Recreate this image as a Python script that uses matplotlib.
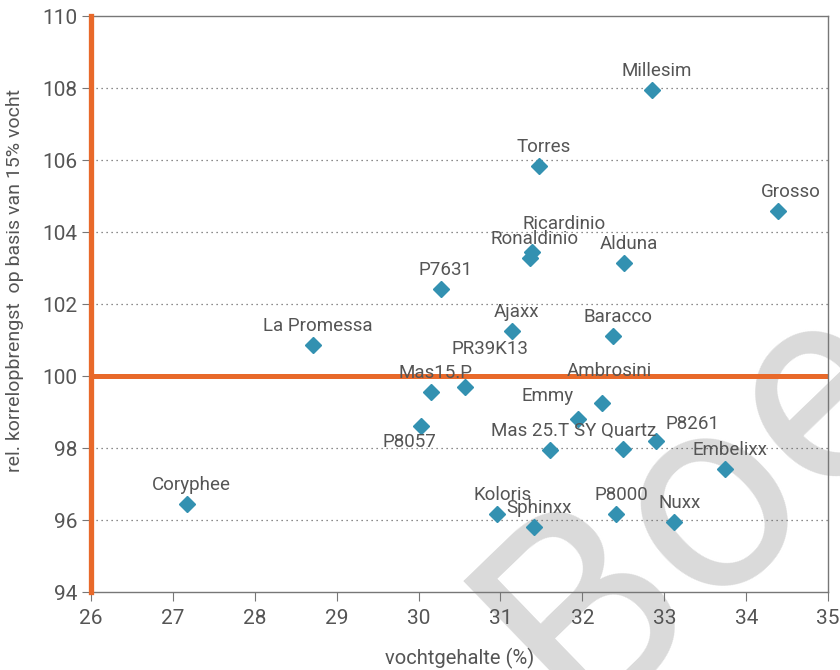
"""Scatter: relatieve korrelopbrengst vs vochtgehalte per ras."""

import matplotlib
matplotlib.use("Agg")
import matplotlib.pyplot as plt

rassen = ["Millesim", "Torres", "Grosso", "Ricardinio", "Ronaldinio", "Alduna",
          "P7631", "La Promessa", "Ajaxx", "Baracco", "PR39K13", "Mas15.P",
          "Ambrosini", "Emmy", "P8057", "Mas 25.T", "SY Quartz", "P8261",
          "Embelixx", "Coryphee", "Koloris", "Sphinxx", "P8000", "Nuxx"]
vocht = [32.85, 31.47, 34.39, 31.39, 31.36, 32.51,
         30.27, 28.71, 31.14, 32.37, 30.57, 30.15,
         32.24, 31.95, 30.03, 31.60, 32.49, 32.90,
         33.74, 27.17, 30.96, 31.41, 32.41, 33.12]
opbrengst = [107.94, 105.83, 104.58, 103.45, 103.27, 103.14,
             102.42, 100.86, 101.25, 101.11, 99.70, 99.56,
             99.24, 98.80, 98.62, 97.94, 97.97, 98.20,
             97.42, 96.44, 96.16, 95.80, 96.16, 95.95]

# label offsets in pixels (dx, dy) relative to the marker
offsets = {"Ricardinio": (32, 28), "PR39K13": (25, 38), "Ambrosini": (7, 32),
           "Emmy": (-31, 23), "P8057": (-12, -16), "Mas 25.T": (-20, 19),
           "SY Quartz": (-7, 18), "P8261": (36, 17), "Grosso": (13, 19)}

oranje = "#e8692a"
blauw = "#3391b1"
grijs = "#555555"

plt.rcParams["font.family"] = ["Roboto", "DejaVu Sans"]

fig = plt.figure(figsize=(8.4, 6.7), dpi=100)
ax = fig.add_axes([0.108, 0.1164, 0.878, 0.8597])
ax.patch.set_alpha(0)

# watermark
fig.text(0.83, 0.25, "Boe", fontsize=200, color="#dadada", rotation=44,
         ha="center", va="center", zorder=-1, family="Roboto")

ax.set_xlim(26, 35)
ax.set_ylim(94, 110)
ax.set_xticks(range(26, 36))
ax.set_yticks(range(94, 111, 2))
for y in range(96, 110, 2):
    if y != 100:
        ax.axhline(y, color="#666666", lw=0.9, ls=(0, (1, 3)), zorder=1)

ax.axhline(100, color=oranje, lw=3.6, zorder=2)
ax.axvline(26, color=oranje, lw=3.8, zorder=5, clip_on=False)

ax.plot(vocht, opbrengst, ls="none", marker="D", ms=8.5, color=blauw,
        mec=blauw, zorder=3)

for naam, x, y in zip(rassen, vocht, opbrengst):
    dx, dy = offsets.get(naam, (5, 19))
    ax.annotate(naam, (x, y), xytext=(dx, dy), textcoords="offset pixels",
                ha="center", va="center", fontsize=13.5, color=grijs, zorder=4)

for side in ["top", "right", "bottom", "left"]:
    ax.spines[side].set_color("#777777")
    ax.spines[side].set_linewidth(1.0)
ax.tick_params(colors="#777777", labelcolor=grijs, labelsize=15, length=6.5,
               direction="out")
ax.tick_params(axis="x", pad=6)
ax.tick_params(axis="y", pad=3)

ax.set_xlabel("vochtgehalte (%)", fontsize=14.5, color=grijs, labelpad=14)
ax.set_ylabel("rel. korrelopbrengst  op basis van 15% vocht", fontsize=14,
              color=grijs)
ax.yaxis.set_label_coords(-0.09, 0.54)

fig.savefig("out.png", dpi=100)
plt.close(fig)
